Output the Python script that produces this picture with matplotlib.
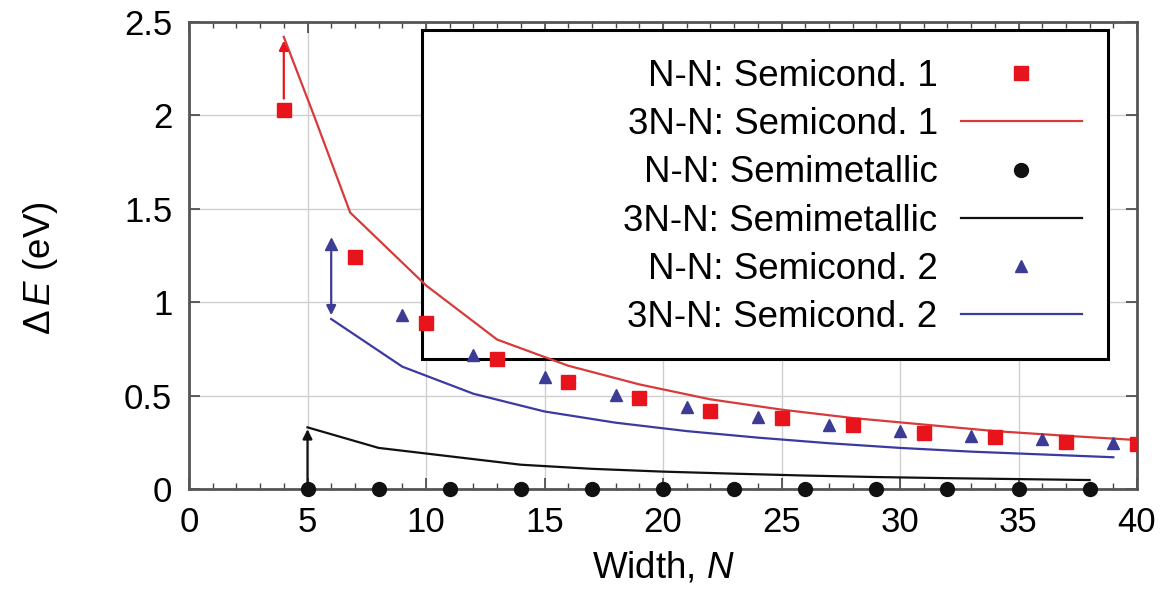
import matplotlib
matplotlib.use("Agg")
import matplotlib.pyplot as plt
from matplotlib.patches import Rectangle
from matplotlib.ticker import MultipleLocator, FuncFormatter

# ---------------- data ----------------
nn_semi1_x = [4, 7, 10, 13, 16, 19, 22, 25, 28, 31, 34, 37, 40]
nn_semi1_y = [2.03, 1.24, 0.89, 0.695, 0.572, 0.487, 0.418, 0.378, 0.342, 0.298, 0.278, 0.253, 0.24]

line_semi1_x = [4, 5.3, 6.8, 10, 13, 16, 19, 22, 25, 28, 31, 34, 37, 40]
line_semi1_y = [2.42, 1.99, 1.48, 1.09, 0.80, 0.66, 0.56, 0.48, 0.425, 0.38, 0.345, 0.31, 0.285, 0.262]

nn_metal_x = [5, 8, 11, 14, 17, 20, 23, 26, 29, 32, 35, 38]
nn_metal_y = [0, 0, 0, 0, 0, 0, 0, 0, 0, 0, 0, 0]

line_metal_x = [5, 8, 11, 14, 17, 20, 23, 26, 29, 32, 35, 38]
line_metal_y = [0.33, 0.22, 0.175, 0.13, 0.108, 0.093, 0.082, 0.072, 0.064, 0.058, 0.053, 0.048]

nn_semi2_x = [6, 9, 12, 15, 18, 21, 24, 27, 30, 33, 36, 39]
nn_semi2_y = [1.31, 0.93, 0.716, 0.598, 0.503, 0.437, 0.385, 0.342, 0.312, 0.283, 0.268, 0.248]

line_semi2_x = [6, 9, 12, 15, 18, 21, 24, 27, 30, 33, 36, 39]
line_semi2_y = [0.91, 0.655, 0.51, 0.415, 0.355, 0.31, 0.275, 0.245, 0.22, 0.2, 0.185, 0.17]

legend_labels = ["N-N: Semicond. 1", "3N-N: Semicond. 1",
                 "N-N: Semimetallic", "3N-N: Semimetallic",
                 "N-N: Semicond. 2", "3N-N: Semicond. 2"]

x_ticks = [0, 5, 10, 15, 20, 25, 30, 35, 40]
y_ticks = [0, 0.5, 1, 1.5, 2, 2.5]

# arrows (x, from, to)
arrow_x = [4, 5, 6]
arrow_from = [2.09, 0.0, 1.27]
arrow_to = [2.40, 0.32, 0.93]

# ---------------- style ----------------
plt.rcParams['font.family'] = ['Liberation Sans', 'DejaVu Sans']
plt.rcParams['mathtext.fontset'] = 'custom'
plt.rcParams['mathtext.rm'] = 'Liberation Sans'
plt.rcParams['mathtext.it'] = 'Liberation Sans:italic'

RED = '#e8141c'
RED_LINE = '#d83a3a'
BLUE = '#3c3c96'
BLUE_LINE = '#3a3aa0'
BLACK = '#111111'
FS_TICK = 25
FS = 26.5

fig = plt.figure(figsize=(11.64, 5.90), dpi=100)
ax = fig.add_axes([189/1164, 1-489/590, (1137-189)/1164, (489-22)/590])

ax.set_xlim(0, 40)
ax.set_ylim(0, 2.5)

# legend frame (below data)
ax.add_patch(Rectangle((9.83, 0.695), 38.78-9.83, 2.455-0.695,
                       facecolor='white', edgecolor='black', lw=2.2, zorder=1.5))

ax.grid(True, color='#cfcfcf', lw=1.0, zorder=0)
ax.set_axisbelow(True)

h1, = ax.plot(nn_semi1_x, nn_semi1_y, 's', color=RED, ms=10, lw=0, zorder=5)
h2, = ax.plot(line_semi1_x, line_semi1_y, '-', color=RED_LINE, lw=1.6, zorder=4)
h3, = ax.plot(nn_metal_x, nn_metal_y, 'o', color=BLACK, ms=10, lw=0, zorder=6, clip_on=False)
h4, = ax.plot(line_metal_x, line_metal_y, '-', color=BLACK, lw=1.6, zorder=4)
h5, = ax.plot(nn_semi2_x, nn_semi2_y, '^', color=BLUE, ms=8.5, lw=0, zorder=5)
h6, = ax.plot(line_semi2_x, line_semi2_y, '-', color=BLUE_LINE, lw=1.6, zorder=4)

arrow_colors = [RED, BLACK, BLUE]
for xa, y0, y1, c in zip(arrow_x, arrow_from, arrow_to, arrow_colors):
    ax.annotate('', xy=(xa, y1), xytext=(xa, y0),
                arrowprops=dict(arrowstyle='-|>', color=c, lw=1.6,
                                mutation_scale=14, shrinkA=0, shrinkB=0),
                zorder=6)

ax.set_xticks(x_ticks)
ax.set_yticks(y_ticks)
ax.xaxis.set_minor_locator(MultipleLocator(1))
ax.yaxis.set_major_formatter(FuncFormatter(lambda v, p: '%g' % v))
ax.tick_params(which='both', direction='in', top=True, right=True, color='#444444')
ax.tick_params(which='major', length=8, width=1.2, labelsize=FS_TICK)
ax.tick_params(which='minor', length=4, width=1.0)
ax.tick_params(axis='x', pad=12)
ax.tick_params(axis='y', pad=12)
for s in ax.spines.values():
    s.set_color('#555555')
    s.set_linewidth(2)

leg = ax.legend([h1, h2, h3, h4, h5, h6], legend_labels,
                loc='upper right', bbox_to_anchor=(1082/1164, 1-59/590),
                bbox_transform=fig.transFigure, frameon=False,
                markerfirst=False, numpoints=1, fontsize=FS,
                handlelength=3.3, handletextpad=0.62, labelspacing=0.36,
                borderpad=0, borderaxespad=0)
for t in leg.get_texts():
    t.set_ha('right')
leg.set_zorder(7)

fig.text(663/1164, 1-568/590, 'Width, $N$', ha='center', va='center', fontsize=FS)
fig.text(40/1164, 1-268/590, r'$\Delta\,E$ (eV)', ha='center', va='center',
         fontsize=FS, rotation=90)

fig.savefig('out.png', dpi=100)
